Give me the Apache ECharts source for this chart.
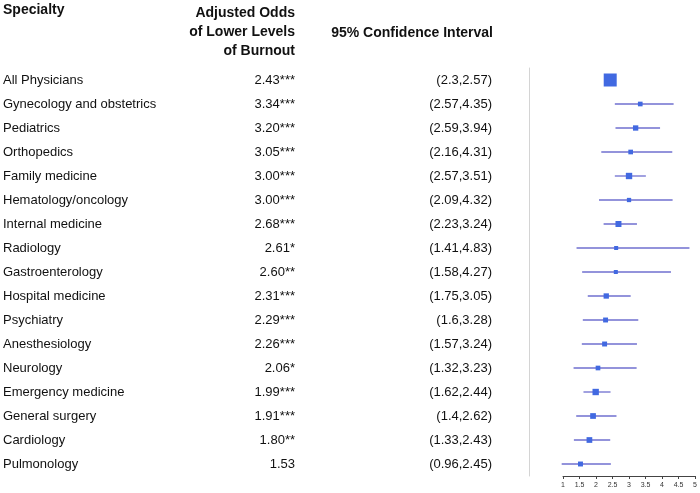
<!DOCTYPE html>
<html><head><meta charset="utf-8">
<script src="https://cdn.jsdelivr.net/npm/echarts/dist/echarts.min.js"></script>
<style>html,body{margin:0;padding:0;background:#fff}#c{width:700px;height:493px}</style>
</head><body><div id="c"></div>
<script>
const specialties = ['All Physicians','Gynecology and obstetrics','Pediatrics','Orthopedics','Family medicine','Hematology/oncology','Internal medicine','Radiology','Gastroenterology','Hospital medicine','Psychiatry','Anesthesiology','Neurology','Emergency medicine','General surgery','Cardiology','Pulmonology'];
const oddsRatios = [2.43,3.34,3.20,3.05,3.00,3.00,2.68,2.61,2.60,2.31,2.29,2.26,2.06,1.99,1.91,1.80,1.53];
const significance = ['***','***','***','***','***','***','***','*','**','***','***','***','*','***','***','**',''];
const ciLower = [2.3,2.57,2.59,2.16,2.57,2.09,2.23,1.41,1.58,1.75,1.6,1.57,1.32,1.62,1.4,1.33,0.96];
const ciUpper = [2.57,4.35,3.94,4.31,3.51,4.32,3.24,4.83,4.27,3.05,3.28,3.24,3.23,2.44,2.62,2.43,2.45];
const relWeights = [1.0,0.36,0.41,0.36,0.49,0.33,0.46,0.31,0.31,0.41,0.38,0.38,0.36,0.49,0.44,0.44,0.38];
const xMin = 1, xMax = 5, xStep = 0.5;

const FONT = '"Liberation Sans", Arial, sans-serif';
const oddsLabels = oddsRatios.map((v,i)=>v.toFixed(2)+significance[i]);
const ciLabels = ciLower.map((lo,i)=>'('+lo+','+ciUpper[i]+')');
const seriesData = oddsRatios.map((v,i)=>[v,i,ciLower[i],ciUpper[i],relWeights[i]]);

const chart = echarts.init(document.getElementById('c'), null, {renderer:'canvas'});
const GL = 563;
function catAxis(data, offset, align, showLine){
  return {type:'category', data:data, inverse:true, position:'left', offset:offset,
    axisLine:{show:!!showLine, lineStyle:{color:'#d4d4d4', width:1}},
    axisTick:{show:false}, splitLine:{show:false},
    axisLabel:{show:!showLine, align:align, margin:8, fontSize:13, color:'#111', fontFamily:FONT}};
}
chart.setOption({
  animation:false,
  grid:{left:GL, right:4, top:68, bottom:17, containLabel:false},
  xAxis:{type:'value', min:xMin, max:xMax, interval:xStep,
    splitLine:{show:false},
    axisLine:{show:true, lineStyle:{color:'#444', width:1}},
    axisTick:{show:true, length:3, lineStyle:{color:'#444'}},
    axisLabel:{fontSize:7, margin:6, color:'#333', fontFamily:FONT}},
  yAxis:[
    catAxis(specialties, GL-11, 'left'),
    catAxis(oddsLabels, GL-8-295, 'right'),
    catAxis(ciLabels, GL-8-492, 'right'),
    catAxis(specialties, GL-529, 'right', true)
  ],
  graphic:[
    {type:'text', x:3, y:10, style:{text:'Specialty', font:'bold 14px '+FONT, fill:'#111', textAlign:'left', textVerticalAlign:'middle'}},
    {type:'text', x:295, y:3.5, style:{text:'Adjusted Odds\nof Lower Levels\nof Burnout', font:'bold 14px '+FONT, fill:'#111', textAlign:'right', textVerticalAlign:'top', lineHeight:19}},
    {type:'text', x:493, y:33, style:{text:'95% Confidence Interval', font:'bold 14px '+FONT, fill:'#111', textAlign:'right', textVerticalAlign:'middle'}}
  ],
  series:[{
    type:'custom', xAxisIndex:0, yAxisIndex:0, clip:false,
    encode:{x:0, y:1},
    data:seriesData,
    renderItem:function(params, api){
      const y = api.value(1);
      const p = api.coord([api.value(0), y]);
      const a = api.coord([api.value(2), y]);
      const b = api.coord([api.value(3), y]);
      const s = 13*api.value(4);
      return {type:'group', children:[
        {type:'line', shape:{x1:a[0], y1:a[1], x2:b[0], y2:b[1]}, style:{stroke:'#6f6fcf', lineWidth:1.3}},
        {type:'rect', shape:{x:p[0]-s/2, y:p[1]-s/2, width:s, height:s}, style:{fill:'#4169E1'}}
      ]};
    }
  }]
});
</script></body></html>
